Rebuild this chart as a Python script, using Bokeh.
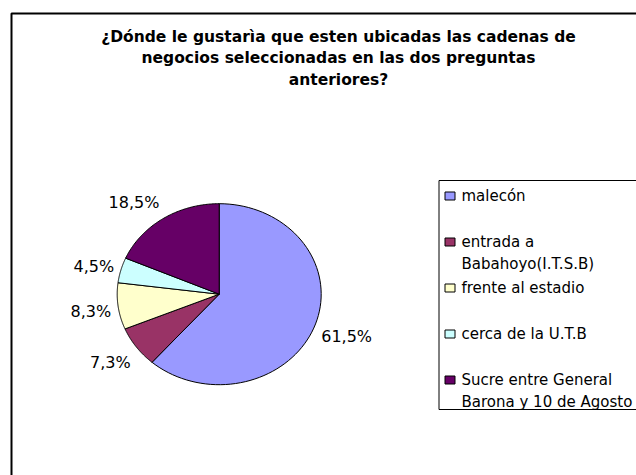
import numpy as np
from bokeh.plotting import figure
from bokeh.models import Range1d, BoxAnnotation, ColumnDataSource
from bokeh.core.properties import value
from bokeh.embed import file_html
from bokeh.resources import INLINE

# ---- data ----
categories = ["malecón", "entrada a\nBabahoyo(I.T.S.B)", "frente al estadio",
              "cerca de la U.T.B", "Sucre entre General\nBarona y 10 de Agosto"]
percentages = [61.5, 7.3, 8.3, 4.5, 18.5]
pct_labels = ["61,5%", "7,3%", "8,3%", "4,5%", "18,5%"]
colors = ["#9999FF", "#993366", "#FFFFCC", "#CCFFFF", "#660066"]
title_lines = ["¿Dónde le gustarìa que esten ubicadas las cadenas de",
               "negocios seleccionadas en las dos preguntas",
               "anteriores?"]

# ---- layout (page pixel coordinates) ----
CX, CY, RX, RY = 218.7, 293.7, 102.0, 90.5
FONT = value("DejaVu Sans")

p = figure(width=636, height=475, x_range=Range1d(0, 636), y_range=Range1d(475, 0),
           output_backend="svg", toolbar_location=None, min_border=0,
           x_axis_location=None, y_axis_location=None)
p.grid.visible = False
p.outline_line_color = None
p.background_fill_color = "white"
p.border_fill_color = "white"

# outer chart frame
p.add_layout(BoxAnnotation(left=11, top=13, right=1000, bottom=1000,
                           fill_color=None, fill_alpha=0, line_color="black",
                           line_alpha=1.0, line_width=2))

# pie slices (elliptical, clockwise from 12 o'clock)
vals = np.array(percentages, dtype=float)
frac = vals / vals.sum()
cum = np.concatenate([[0.0], np.cumsum(frac)])
xs, ys = [], []
for i in range(len(vals)):
    t = np.linspace(cum[i], cum[i + 1], 80) * 2 * np.pi
    xs.append([CX] + list(CX + RX * np.sin(t)))
    ys.append([CY] + list(CY - RY * np.cos(t)))
p.patches(xs, ys, fill_color=colors, line_color="black", line_width=1)

# percentage labels
mid = (cum[:-1] + cum[1:]) / 2 * 2 * np.pi
s = np.sin(mid)
c = -np.cos(mid)
lx = CX + (RX + 7) * s
ly = CY + 2.5 + (RY + 22) * c
for side, align in ((s > 0, "left"), (s <= 0, "right")):
    idx = np.where(side)[0]
    src = ColumnDataSource(dict(x=lx[idx], y=ly[idx], t=[pct_labels[k] for k in idx]))
    p.text(x="x", y="y", text="t", source=src, text_align=align, text_baseline="middle",
           text_font=FONT, text_font_size="16px", text_color="black")

# legend
p.add_layout(BoxAnnotation(left=438.5, top=180, right=1000, bottom=409,
                           fill_color=None, fill_alpha=0, line_color="black",
                           line_alpha=1.0, line_width=1))
n = len(categories)
ly0 = 195.5 + 46 * np.arange(n)
p.rect(x=[449.5] * n, y=ly0, width=10, height=8, width_units="screen", height_units="screen",
       fill_color=colors, line_color="black", line_width=1)
p.text(x=[461] * n, y=ly0 - 9, text=categories, text_align="left", text_baseline="top",
       text_font=FONT, text_font_size="15px", text_line_height=1.2, text_color="black")

# title
ty = 36 + 21.5 * np.arange(len(title_lines))
p.text(x=[338] * len(title_lines), y=ty, text=title_lines, text_align="center",
       text_baseline="middle", text_font=FONT, text_font_style="bold",
       text_font_size="15.5px", text_color="black")

open("out.html", "w").write(file_html(p, INLINE))
